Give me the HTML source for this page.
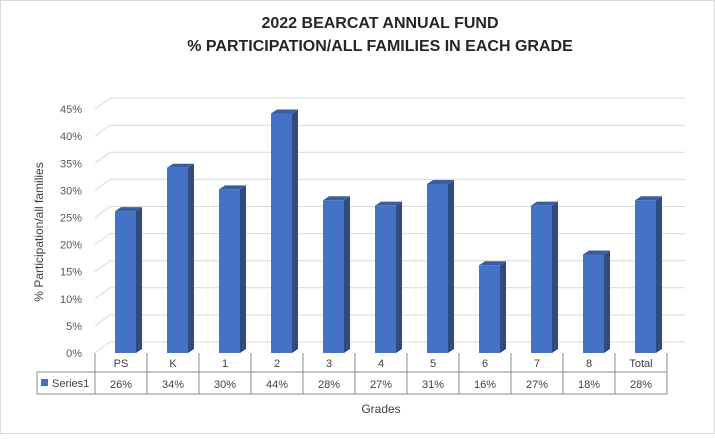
<!DOCTYPE html>
<html><head><meta charset="utf-8"><style>
body{margin:0;background:#fff;font-family:"Liberation Sans",sans-serif}
svg text{font-family:"Liberation Sans",sans-serif}
</style></head><body>
<svg width="715" height="434" viewBox="0 0 715 434" xmlns="http://www.w3.org/2000/svg">
<rect x="0.5" y="0.5" width="714" height="433" fill="#fff" stroke="#d9d9d9"/>
<text x="380" y="28" text-anchor="middle" font-size="16" font-weight="bold" fill="#262626">2022 BEARCAT ANNUAL FUND</text>
<text x="380" y="51" text-anchor="middle" font-size="16" font-weight="bold" fill="#262626">% PARTICIPATION/ALL FAMILIES IN EACH GRADE</text>
<g id="grid"></g><g id="bars"></g><g id="table"></g>
<text transform="translate(43,232) rotate(-90)" text-anchor="middle" font-size="12" fill="#404040">% Participation/all families</text>
<text x="381" y="413" text-anchor="middle" font-size="12" fill="#404040">Grades</text>
</svg>
<script>
const categories=["PS","K","1","2","3","4","5","6","7","8","Total"];
const values=[26,34,30,44,28,27,31,16,27,18,28];
const ticks=[0,5,10,15,20,25,30,35,40,45];
const NS="http://www.w3.org/2000/svg";
function mk(t,a,p){const e=document.createElementNS(NS,t);for(const k in a)e.setAttribute(k,a[k]);p.appendChild(e);return e;}
const y0=353,pp=5.42,x0=95,cw=52,dx=15,dy=-11;
const Y=v=>y0-v*pp, X=i=>x0+i*cw+cw/2;
const grid=document.getElementById('grid'),bars=document.getElementById('bars'),tb=document.getElementById('table');
ticks.forEach(t=>{
 const y=Y(t);
 const l=mk('polyline',{points:`${x0},${y} ${x0+dx},${y+dy} ${x0+11*cw+dx+3},${y+dy}`,fill:'none',stroke:'#d9d9d9','stroke-width':1},grid);
 
 
 const tx=mk('text',{x:82,y:y+4,'text-anchor':'end','font-size':11,fill:'#595959'},grid);
 tx.textContent=t+'%';
 
 
});
values.forEach((v,i)=>{
 const l=X(i)-6,r=X(i)+15,top=Y(v)-1,d=6,h=4;
 const g=mk('g',{},bars);
 
 
 mk('polygon',{points:`${r},${top} ${r+d},${top-h} ${r+d},${y0-h} ${r},${y0}`,fill:'#2f4b80'},g);
 mk('polygon',{points:`${l},${top} ${l+d},${top-h} ${r+d},${top-h} ${r},${top}`,fill:'#3a5d9e'},g);
 mk('rect',{x:l,y:top,width:r-l,height:y0-top,fill:'#4472c4'},g);
});
const s='#8c8c8c';
mk('line',{x1:x0,y1:y0,x2:x0,y2:394,stroke:s},tb);
mk('line',{x1:37,y1:372,x2:x0+11*cw,y2:372,stroke:s},tb);
mk('line',{x1:37,y1:394,x2:x0+11*cw,y2:394,stroke:s},tb);
mk('line',{x1:37,y1:372,x2:37,y2:394,stroke:s},tb);
const sw=mk('rect',{x:41,y:379,width:7,height:7,fill:'#4472c4'},tb);


const st=mk('text',{x:52,y:387,'font-size':11,fill:'#404040'},tb);st.textContent='Series1';


categories.forEach((c,i)=>{
 mk('line',{x1:x0+(i+1)*cw,y1:y0,x2:x0+(i+1)*cw,y2:394,stroke:s},tb);
 const a=mk('text',{x:X(i),y:367,'text-anchor':'middle','font-size':11,fill:'#404040'},tb);a.textContent=c;
 
 
 const b=mk('text',{x:X(i),y:388,'text-anchor':'middle','font-size':11,fill:'#404040'},tb);b.textContent=values[i]+'%';
 
 
});
</script>
</body></html>
